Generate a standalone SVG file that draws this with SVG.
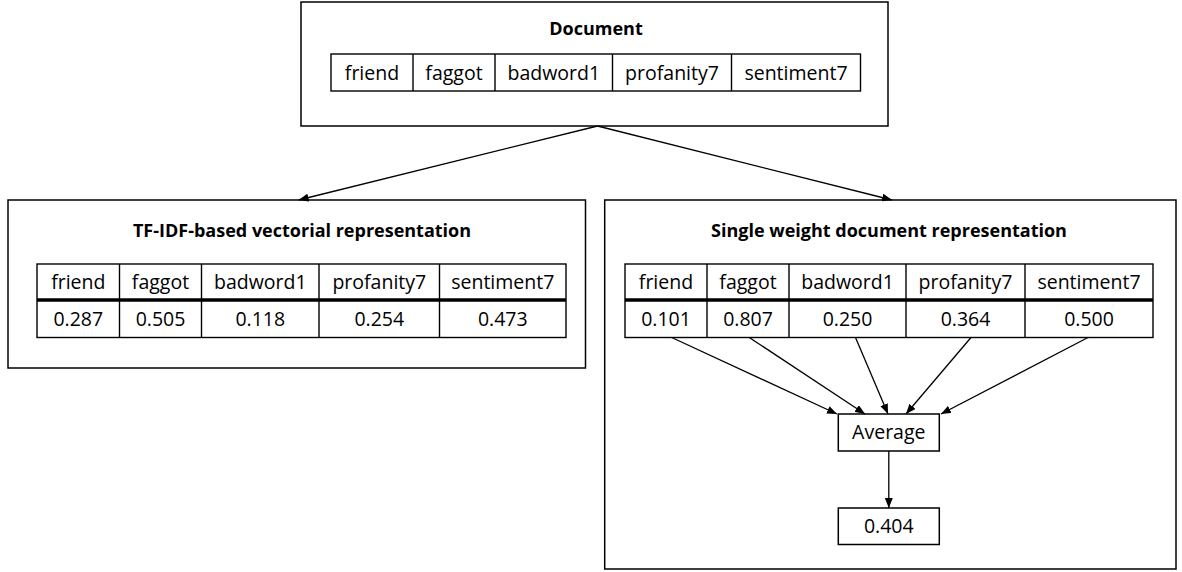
<svg xmlns="http://www.w3.org/2000/svg" width="1182" height="572" viewBox="0 0 1182 572">
<defs>
<marker id="arr" markerUnits="userSpaceOnUse" markerWidth="10" markerHeight="8" refX="10" refY="4" orient="auto">
<path d="M0,0 L10,4 L0,8 Z" fill="#000"/>
</marker>
<style>
.box{fill:#fff;stroke:#000;stroke-width:1.5}
.cell{fill:none;stroke:#000;stroke-width:1.4}
.thick{stroke:#000;stroke-width:3.5}
.t{font-family:"Open Sans","Liberation Sans",sans-serif;font-size:19.5px;fill:#000;text-anchor:middle}
.h{font-family:"Open Sans","Liberation Sans",sans-serif;font-size:18px;font-weight:bold;fill:#000;text-anchor:middle}
.c{stroke:#000;stroke-width:1.3;fill:none;marker-end:url(#arr)}
</style>
</defs>
<rect width="1182" height="572" fill="#fff"/>

<g id="document">
<rect class="box" x="301" y="2" width="587" height="124"/>
<text class="h" x="596" y="35">Document</text>
<rect class="cell" x="331" y="54" width="529.5" height="37"/>
<line class="cell" x1="413" y1="54" x2="413" y2="91"/>
<line class="cell" x1="495" y1="54" x2="495" y2="91"/>
<line class="cell" x1="612.5" y1="54" x2="612.5" y2="91"/>
<line class="cell" x1="731.5" y1="54" x2="731.5" y2="91"/>
<text class="t" x="372" y="80">friend</text>
<text class="t" x="454" y="80">faggot</text>
<text class="t" x="553.8" y="80">badword1</text>
<text class="t" x="672" y="80">profanity7</text>
<text class="t" x="796" y="80">sentiment7</text>
</g>

<g id="tfidf">
<rect class="box" x="8" y="200" width="577.5" height="168"/>
<text class="h" x="302" y="237">TF-IDF-based vectorial representation</text>
<rect class="cell" x="37" y="264" width="529" height="73.5"/>
<line class="thick" x1="37" y1="300" x2="566" y2="300"/>
<line class="cell" x1="119.5" y1="264" x2="119.5" y2="337.5"/>
<line class="cell" x1="201.5" y1="264" x2="201.5" y2="337.5"/>
<line class="cell" x1="319" y1="264" x2="319" y2="337.5"/>
<line class="cell" x1="439.5" y1="264" x2="439.5" y2="337.5"/>
<text class="t" x="78.3" y="289">friend</text>
<text class="t" x="160.5" y="289">faggot</text>
<text class="t" x="260.3" y="289">badword1</text>
<text class="t" x="379.3" y="289">profanity7</text>
<text class="t" x="502.8" y="289">sentiment7</text>
<text class="t" x="78.3" y="326">0.287</text>
<text class="t" x="160.5" y="326">0.505</text>
<text class="t" x="260.3" y="326">0.118</text>
<text class="t" x="379.3" y="326">0.254</text>
<text class="t" x="502.8" y="326">0.473</text>
</g>

<g id="single">
<rect class="box" x="604.7" y="200" width="571.3" height="369"/>
<text class="h" x="889" y="237">Single weight document representation</text>
<rect class="cell" x="625" y="264" width="528" height="73.5"/>
<line class="thick" x1="625" y1="300" x2="1153" y2="300"/>
<line class="cell" x1="707" y1="264" x2="707" y2="337.5"/>
<line class="cell" x1="789" y1="264" x2="789" y2="337.5"/>
<line class="cell" x1="906" y1="264" x2="906" y2="337.5"/>
<line class="cell" x1="1025" y1="264" x2="1025" y2="337.5"/>
<text class="t" x="666" y="289">friend</text>
<text class="t" x="748" y="289">faggot</text>
<text class="t" x="847.5" y="289">badword1</text>
<text class="t" x="965.5" y="289">profanity7</text>
<text class="t" x="1089" y="289">sentiment7</text>
<text class="t" x="666" y="326">0.101</text>
<text class="t" x="748" y="326">0.807</text>
<text class="t" x="847.5" y="326">0.250</text>
<text class="t" x="965.5" y="326">0.364</text>
<text class="t" x="1089" y="326">0.500</text>
</g>

<g id="average">
<rect class="box" x="838.3" y="414" width="101" height="37"/>
<text class="t" x="888.8" y="439">Average</text>
</g>

<g id="result">
<rect class="box" x="838.3" y="508" width="101" height="36.5"/>
<text class="t" x="888.8" y="533">0.404</text>
</g>

<g id="connectors">
<line class="c" x1="597.5" y1="126" x2="298.6" y2="200"/>
<line class="c" x1="597.5" y1="126" x2="892" y2="200"/>
<line class="c" x1="671.7" y1="337.5" x2="837" y2="414"/>
<line class="c" x1="749.3" y1="337.5" x2="865" y2="414"/>
<line class="c" x1="855.5" y1="337.5" x2="888" y2="414"/>
<line class="c" x1="971" y1="337.5" x2="906" y2="414"/>
<line class="c" x1="1088" y1="337.5" x2="941" y2="414"/>
<line class="c" x1="888.8" y1="451" x2="888.8" y2="508"/>
</g>
</svg>
